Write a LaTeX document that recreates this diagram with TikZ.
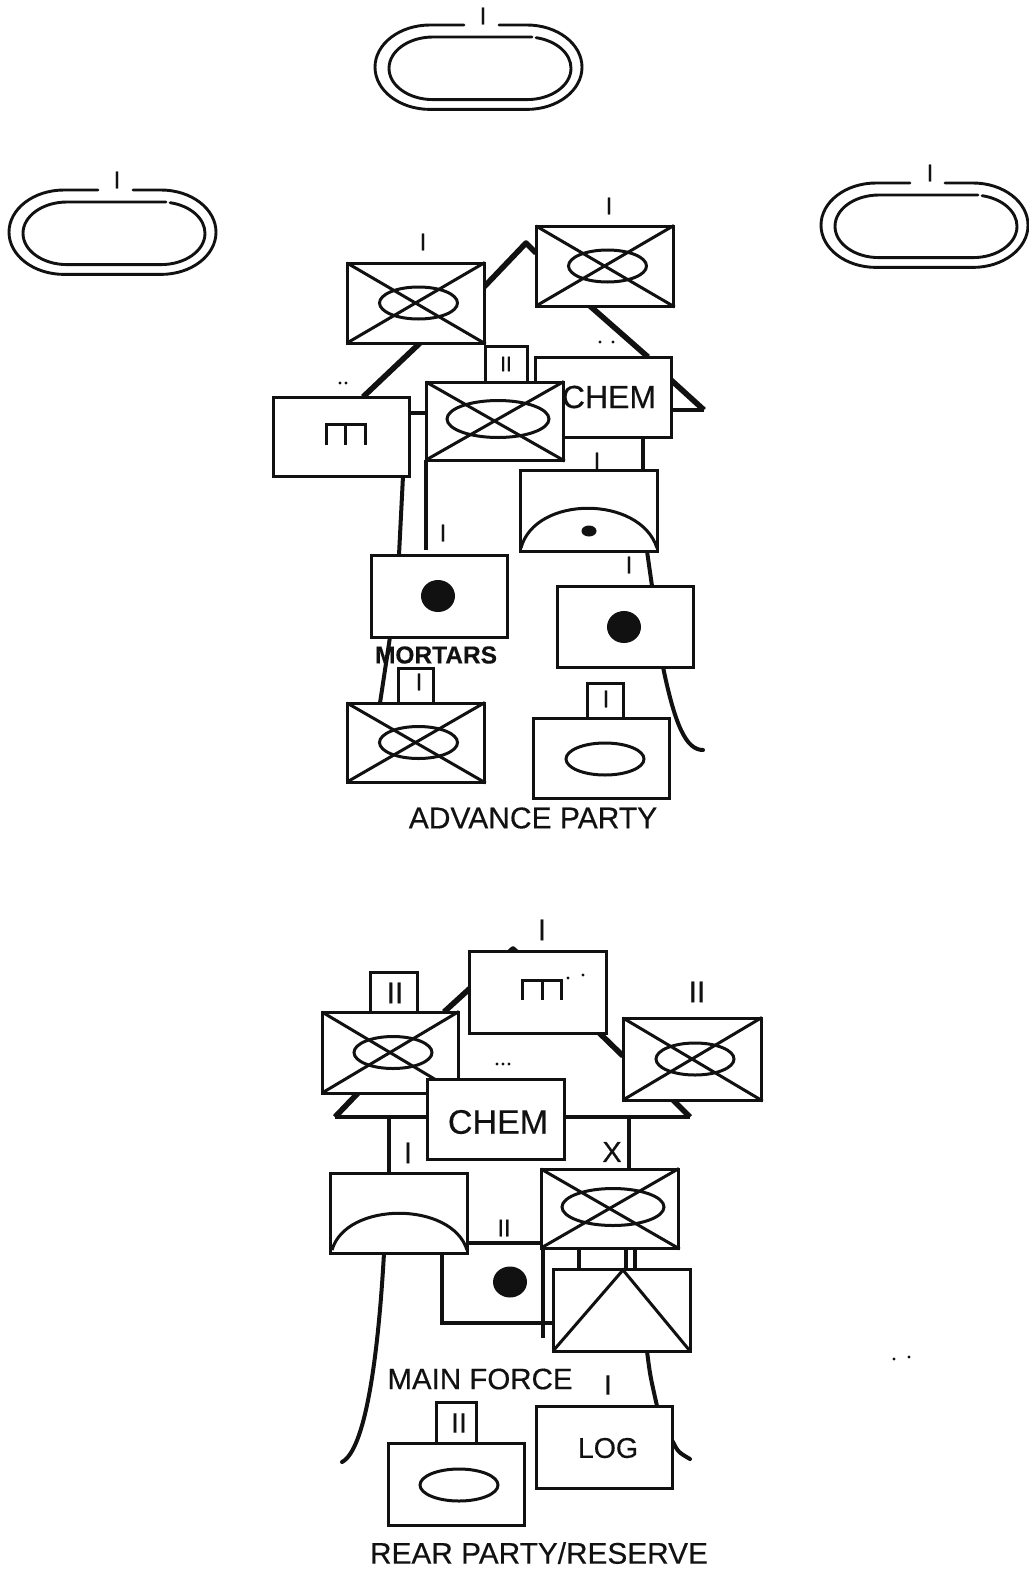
\documentclass[tikz,border=0pt]{standalone}
\usepackage{fontspec}
\setmainfont{Liberation Sans}[FakeBold=0.4]
\usetikzlibrary{calc}
\pgfdeclarelayer{bg}
\pgfsetlayers{bg,main}
\definecolor{ink}{HTML}{111111}
\tikzset{
  box/.style={draw=ink,fill=white,line width=3pt,inner sep=0pt,outer sep=0pt},
  road/.style={draw=ink,line width=5.6pt,line join=round},
  roadthin/.style={draw=ink,line width=4pt,line join=miter},
  wireline/.style={draw=ink,line width=3.2pt},
  sym/.style={draw=ink,line width=3pt},
  ovalline/.style={draw=ink,line width=2.9pt,line cap=round},
  lbl/.style={text=ink,inner sep=0pt,outer sep=0pt},
}
\newcommand{\fs}[1]{\fontsize{#1}{#1}\selectfont}
\newcommand{\bx}[5]{%
  \pgfmathsetmacro\bw{#4-#2}\pgfmathsetmacro\bh{#5-#3}%
  \pgfmathsetmacro\bcx{(#4+#2)/2}\pgfmathsetmacro\bcy{(#5+#3)/2}%
  \node[box,minimum width=\bw pt,minimum height=\bh pt] (#1) at (\bcx,\bcy) {};}
\newcommand{\crossed}[3]{%
  \draw[sym,shorten >=-2pt] (#1.north west) -- (#1.south east);
  \draw[sym,shorten >=-1pt] (#1.south west) -- (#1.north east);
  \draw[sym] ($(#1.center)+(3,0)$) ellipse [x radius=#2,y radius=#3];}
\newcommand{\lab}[5]{\node[lbl,font=\fs{#4}] (#1) at (#2,#3) {#5};}
\newcommand{\specks}[2]{\fill[ink] (#1,#2) circle [radius=1.7];}
\newcommand{\ovalshape}[2]{%
  \begin{scope}[shift={(#1,#2)}]
    \draw[ovalline] (89,0) -- (55,0) arc [start angle=270,end angle=90,x radius=55,y radius=42.2]
      -- (152,84.4) arc [start angle=90,end angle=-90,x radius=55,y radius=42.2] -- (124,0);
    \draw[ovalline] (157,12) -- (58,12) arc [start angle=270,end angle=90,x radius=44,y radius=31.3]
      -- (152,74.6) arc [start angle=90,end angle=-78,x radius=44,y radius=31.3];
  \end{scope}}
\begin{document}
\begin{tikzpicture}[x=1pt,y=-1pt]
\useasboundingbox (0,0) rectangle (1028,1571);

% ---------- ovals
\ovalshape{375}{25}
\ovalshape{9}{190}
\ovalshape{821}{183}
\lab{ovT}{483}{16}{24}{I}
\lab{ovL}{117}{180}{24}{I}
\lab{ovR}{930}{173}{24}{I}

% ---------- advance party
\bx{aA}{347}{263}{484}{343}
\crossed{aA}{39}{16}
\bx{aB}{536}{226}{673}{306}
\crossed{aB}{39}{16}
\bx{aCh}{535}{357}{671}{437}
\lab{aChT}{609}{397}{32}{CHEM}
\bx{aM}{273}{397}{409}{476}
\draw[sym] (326,445) -- (326,424) -- (365,424) -- (365,445);
\draw[sym] (345,424) -- (345,445);
\bx{aIIs}{485}{346}{527}{382}
\bx{aC}{426}{382}{563}{460}
\draw[sym,shorten >=-2pt] (aC.north west) -- (aC.south east);
\draw[sym,shorten >=-1pt] (aC.south west) -- (aC.north east);
\draw[sym] (498,419) ellipse [x radius=51,y radius=18.5];
\bx{aAr}{520}{470}{657}{551}
\draw[sym] (521,548) .. controls (535,495) and (640,495) .. (657,548);
\fill[ink] (589,531) ellipse [x radius=7.5,y radius=5.5];
\bx{aMo}{371}{555}{507}{637}
\fill[ink] (438,596) ellipse [x radius=17,y radius=16];
\bx{aMr}{557}{586}{693}{667}
\fill[ink] (624,627) ellipse [x radius=17,y radius=16];
\bx{aIs}{398}{668}{433}{703}
\bx{aI}{347}{703}{484}{782}
\crossed{aI}{39}{16}
\bx{aRs}{587}{683}{623}{718}
\bx{aRe}{533}{718}{669}{798}
\draw[sym] (605,759) ellipse [x radius=39,y radius=16];

\lab{aL1}{423}{242}{24}{I}
\lab{aL2}{609}{206}{24}{I}
\lab{aL3}{506}{364}{21}{II}
\lab{aL4}{597}{461}{24}{I}
\lab{aL5}{443}{533}{24}{I}
\lab{aL6}{629}{565}{24}{I}
\lab{aL7}{419}{682}{24}{I}
\lab{aL8}{606}{699}{24}{I}
\lab{aMort}{436}{655}{24.5}{\bfseries MORTARS}
\lab{aAdv}{533}{818}{30}{ADVANCE PARTY}
\specks{340}{383}\specks{346}{383}
\specks{600}{342}\specks{613}{342}

% ---------- main force
\bx{bIl}{322}{1012}{458}{1093}
\crossed{bIl}{39}{16}
\bx{bIIs}{370}{972}{417}{1012}
\bx{bM}{469}{951}{606}{1033}
\draw[sym] (522,1000) -- (522,980) -- (561,980) -- (561,1000);
\draw[sym] (542,980) -- (542,1000);
\bx{bIr}{623}{1018}{761}{1100}
\crossed{bIr}{39}{16}
\bx{bCh}{427}{1079}{564}{1159}
\lab{bChT}{498}{1122}{34}{CHEM}
\bx{bAr}{330}{1173}{467}{1253}
\draw[sym] (332,1250) .. controls (346,1201) and (452,1201) .. (467,1250);
\bx{bX}{541}{1169}{678}{1248}
\draw[sym,shorten >=-2pt] (bX.north west) -- (bX.south east);
\draw[sym,shorten >=-1pt] (bX.south west) -- (bX.north east);
\draw[sym] (613,1207) ellipse [x radius=51,y radius=18.5];
\bx{bTri}{553}{1269}{690}{1351}
\draw[sym] (bTri.south west) -- (623,1270) -- (bTri.south east);
\fill[ink] (510,1282) ellipse [x radius=17,y radius=15.5];
\bx{bLog}{536}{1406}{672}{1488}
\lab{bLogT}{608}{1448}{28.5}{LOG}
\bx{bRs}{436}{1402}{476}{1443}
\bx{bRe}{388}{1443}{524}{1525}
\draw[sym] (459,1485) ellipse [x radius=39,y radius=16];

\lab{bL1}{542}{930}{30}{I}
\lab{bL2}{395}{993}{30}{II}
\lab{bL3}{697}{992}{30}{II}
\lab{bL4}{408}{1153}{30}{I}
\lab{bLX}{612}{1152}{29}{X}
\lab{bL5}{504}{1228}{24}{II}
\lab{bL6}{608}{1385}{28}{I}
\lab{bL7}{459}{1423}{28}{II}
\lab{bMain}{480}{1379}{29.5}{MAIN FORCE}
\lab{bRear}{539}{1553}{29.8}{REAR PARTY/RESERVE}
\specks{568}{978}\specks{583}{975}
\specks{497}{1064}\specks{503}{1064}\specks{509}{1064}
\specks{894}{1359}\specks{909}{1357}

% ---------- connectors behind the boxes
\coordinate (aPk) at (526,243);
\coordinate (aCor) at (704,410);
\coordinate (aEnd) at (703,750);
\coordinate (aWire) at (426,550);
\coordinate (bPk) at (513,949);
\coordinate (bBL) at (335,1117);
\coordinate (bBR) at (690,1117);
\coordinate (bEndL) at (342,1462);
\coordinate (bEndR) at (690,1459);
\begin{pgfonlayer}{bg}
  \draw[road] ($(aM.north west)+(90,0)$) -- ($(aA.south west)+(73,0)$);
  \draw[road] ($(aA.north east)+(0,24)$) -- (aPk) -- ($(aB.north west)+(0,27)$);
  \draw[road] ($(aB.south west)+(54,0)$) -- ($(aCh.north west)+(113,0)$);
  \draw[road] ($(aCh.north east)+(0,23)$) -- (aCor);
  \draw[roadthin] (aCor) -- ($(aCh.north east)+(0,53)$);
  \draw[roadthin] ($(aCh.south west)+(108,0)$) -- ($(aAr.north west)+(123,0)$);
  \draw[roadthin] ($(aAr.south west)+(127,0)$) -- ($(aMr.north west)+(95,0)$);
  \draw[roadthin] ($(aM.south west)+(130,0)$) -- ($(aMo.north west)+(28,0)$);
  \draw[roadthin] ($(aMo.south west)+(19,0)$) -- ($(aI.north west)+(33,0)$);
  \draw[roadthin] ($(aM.north east)+(0,16)$) -- ($(aC.north west)+(0,31)$);
  \draw[wireline] (aC.south west) -- (aWire);
  \draw[roadthin,line cap=round] ($(aMr.south west)+(106,0)$) .. controls (675,725) and (686,750) .. (aEnd);

  \draw[road] ($(bIl.south west)+(36,0)$) -- (bBL);
  \draw[roadthin] (bBL) -- (bBR);
  \draw[road] (bBR) -- ($(bIr.south west)+(50,0)$);
  \draw[road] ($(bIl.north west)+(122,0)$) -- (bPk) -- ($(bIr.north west)+(0,38)$);
  \draw[roadthin] ($(bBL)+(54,0)$) -- ($(bAr.north west)+(59,0)$);
  \draw[roadthin] ($(bBR)+(-61,0)$) -- ($(bX.north west)+(88,0)$);
  \draw[roadthin,line cap=round] ($(bAr.south west)+(54,0)$) .. controls (378,1360) and (365,1450) .. (bEndL);
  \draw[wireline] ($(bX.south west)+(38,0)$) -- ($(bTri.north west)+(26,0)$);
  \draw[roadthin] ($(bX.south west)+(94,0)$) -- ($(bTri.north west)+(82,0)$);
  \draw[wireline] ($(bX.south west)+(85,0)$) -- ($(bTri.north west)+(73,0)$);
  \draw[roadthin] ($(bTri.south west)+(94,0)$) .. controls (650,1375) .. ($(bLog.north west)+(121,0)$);
  \draw[roadthin,line cap=round] ($(bLog.north east)+(0,34)$) .. controls (678,1452) .. (bEndR);
  % mortar platoon outline
  \draw[wireline] ($(bAr.north east)+(0,70)$) -- ($(bX.north west)+(0,74)$);
  \draw[wireline] ($(bAr.south west)+(112,0)$) -- ++(0,70) -- ($(bTri.north west)+(0,54)$);
  \draw[wireline] ($(bX.south west)+(2,0)$) -- ++(0,90);
\end{pgfonlayer}
\end{tikzpicture}
\end{document}
